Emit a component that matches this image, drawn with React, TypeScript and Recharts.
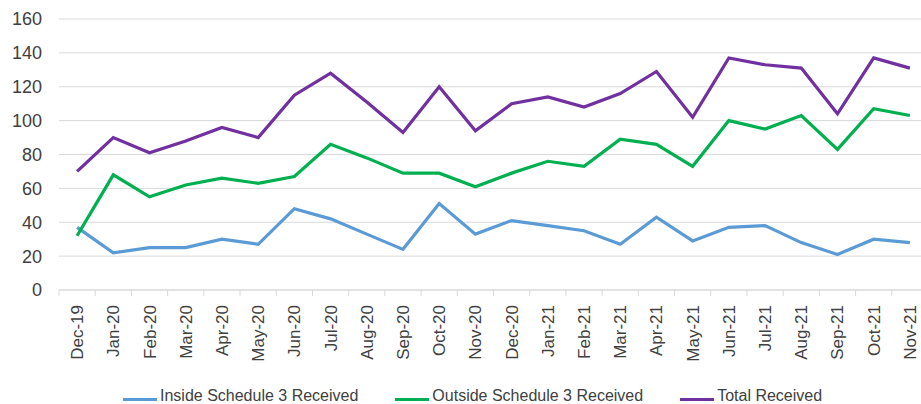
import React from 'react';
import { LineChart, Line, XAxis, YAxis, CartesianGrid, Legend } from 'recharts';

const months = [
  'Dec-19', 'Jan-20', 'Feb-20', 'Mar-20', 'Apr-20', 'May-20', 'Jun-20', 'Jul-20',
  'Aug-20', 'Sep-20', 'Oct-20', 'Nov-20', 'Dec-20', 'Jan-21', 'Feb-21', 'Mar-21',
  'Apr-21', 'May-21', 'Jun-21', 'Jul-21', 'Aug-21', 'Sep-21', 'Oct-21', 'Nov-21',
];
const inside = [37, 22, 25, 25, 30, 27, 48, 42, 33, 24, 51, 33, 41, 38, 35, 27, 43, 29, 37, 38, 28, 21, 30, 28];
const outside = [32, 68, 55, 62, 66, 63, 67, 86, 78, 69, 69, 61, 69, 76, 73, 89, 86, 73, 100, 95, 103, 83, 107, 103];
const total = [70, 90, 81, 88, 96, 90, 115, 128, 111, 93, 120, 94, 110, 114, 108, 116, 129, 102, 137, 133, 131, 104, 137, 131];
const yTicks = [0, 20, 40, 60, 80, 100, 120, 140, 160];

const data = months.map((m, i) => ({
  month: m,
  inside: inside[i],
  outside: outside[i],
  total: total[i],
}));

const TEXT = '#404040';
const GRID = '#D9D9D9';
const FONT = "'Liberation Sans', Arial, sans-serif";

// plot spans 59..928 (a bit past the window), 24 equal slots
const CHART_W = 945;
const AXIS_W = 59;
const RIGHT = 17;
const HALF = (CHART_W - AXIS_W - RIGHT) / 24 / 2;

const MonthTick = (props: any) => {
  const { x, y, payload } = props;
  const last = payload && payload.index === months.length - 1;
  const y0 = y - 8;
  return (
    <g>
      <line x1={x - HALF} y1={y0} x2={x - HALF} y2={y0 + 6} stroke={GRID} strokeWidth={1} />
      {last && <line x1={x + HALF} y1={y0} x2={x + HALF} y2={y0 + 6} stroke={GRID} strokeWidth={1} />}
      <text
        transform={`translate(${x + 6},${y0 + 15}) rotate(-90)`}
        textAnchor="end"
        fill={TEXT}
        fontSize={17}
        fontFamily={FONT}
      >
        {payload.value}
      </text>
    </g>
  );
};

const LegendContent = (props: any) => {
  const { payload } = props;
  return (
    <div style={{ display: 'flex', paddingLeft: 123, fontFamily: FONT, fontSize: 16, lineHeight: '16px', color: TEXT }}>
      {(payload || []).map((entry: any, i: number) => (
        <div key={i} style={{ display: 'flex', alignItems: 'center', marginRight: 37 }}>
          <span style={{ display: 'inline-block', width: 34, height: 3, background: entry.color, marginRight: 3, position: 'relative', top: 3 }} />
          <span>{entry.value}</span>
        </div>
      ))}
    </div>
  );
};

export default function App() {
  return (
    <div style={{ position: 'fixed', top: 0, left: 0, width: 921, height: 404, overflow: 'hidden', background: '#fff' }}>
      <LineChart width={CHART_W} height={404} data={data} margin={{ top: 19, right: RIGHT, left: 0, bottom: 0 }}>
        <CartesianGrid vertical={false} stroke={GRID} strokeWidth={1} />
        <XAxis
          dataKey="month"
          interval={0}
          height={114}
          padding={{ left: HALF, right: HALF }}
          axisLine={{ stroke: GRID }}
          tickLine={false}
          tick={<MonthTick />}
        />
        <YAxis
          domain={[0, 160]}
          ticks={yTicks}
          width={AXIS_W}
          axisLine={false}
          tickLine={false}
          tickMargin={11}
          tick={{ fill: TEXT, fontSize: 18, fontFamily: FONT }}
        />
        <Legend
          layout="horizontal"
          verticalAlign="middle"
          align="center"
          content={<LegendContent />}
          wrapperStyle={{ top: 388, left: 0, width: 921, height: 16 }}
        />
        <Line type="linear" dataKey="inside" name="Inside Schedule 3 Received" stroke="#5B9BD5" strokeWidth={3.2} dot={false} isAnimationActive={false} />
        <Line type="linear" dataKey="outside" name="Outside Schedule 3 Received" stroke="#00B050" strokeWidth={3.2} dot={false} isAnimationActive={false} />
        <Line type="linear" dataKey="total" name="Total Received" stroke="#7030A0" strokeWidth={3.2} dot={false} isAnimationActive={false} />
      </LineChart>
    </div>
  );
}
